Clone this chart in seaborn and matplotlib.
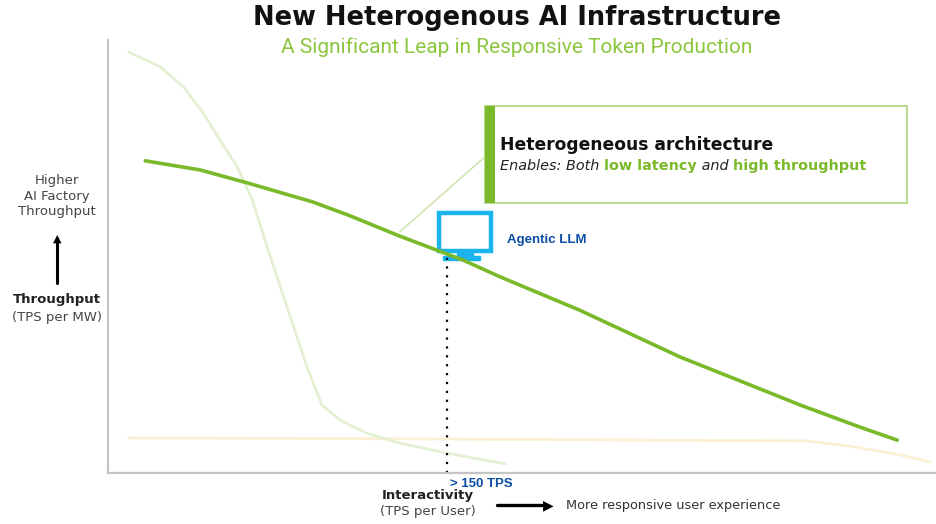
import matplotlib
matplotlib.use("Agg")
from matplotlib import pyplot as plt
from matplotlib.patches import Rectangle
import numpy as np
import pandas as pd
import seaborn as sns

# curves (x = interactivity, y = throughput, both 0-100)
hetero_x = [4.5, 11.1, 16.8, 24.7, 29.2, 35.2, 42.8, 47.3, 56.9, 69.0, 76.2, 83.5, 90.7, 95.2]
hetero_y = [72.1, 70.0, 67.0, 62.6, 59.4, 54.7, 49.2, 45.3, 37.6, 26.8, 21.3, 15.7, 10.6, 7.6]

gpu_x = [2.5, 6.3, 9.1, 11.5, 13.5, 15.6, 17.4, 19.2, 21.6, 24.0, 25.8, 28.0, 31.2, 35.2, 40.9, 47.9]
gpu_y = [97.2, 93.8, 89.2, 83.1, 76.9, 70.7, 63.1, 52.2, 38.3, 24.5, 15.7, 12.2, 9.2, 6.9, 4.6, 2.1]

low_x = [2.5, 35.2, 84.3, 89.5, 95.5, 99.2]
low_y = [8.1, 7.9, 7.4, 6.2, 4.2, 2.5]

agentic_x = 40.9
agentic_y = 49.7

df = pd.concat([
    pd.DataFrame({"x": hetero_x, "y": hetero_y, "series": "hetero"}),
    pd.DataFrame({"x": gpu_x, "y": gpu_y, "series": "gpu"}),
    pd.DataFrame({"x": low_x, "y": low_y, "series": "low"}),
])

W, H = 937, 524
sns.set_style("white")
plt.rcParams['font.family'] = ['DejaVu Sans']
fig = plt.figure(figsize=(W / 100, H / 100), dpi=100)
ax = fig.add_axes([108 / W, 1 - 473 / H, (937 - 108) / W, (473 - 40) / H])

palette = {"hetero": "#7AB929", "gpu": "#E3F0D3", "low": "#FBF0D2"}
widths = {"hetero": 2.6, "gpu": 2.0, "low": 2.0}
for name in ["low", "gpu", "hetero"]:
    d = df[df.series == name]
    sns.lineplot(data=d, x="x", y="y", ax=ax, color=palette[name],
                 linewidth=widths[name], sort=False, estimator=None,
                 solid_joinstyle="round", solid_capstyle="round")

ax.set_xlim(0, 100)
ax.set_ylim(0, 100)
ax.set_xticks([])
ax.set_yticks([])
ax.set_xlabel("")
ax.set_ylabel("")
for s in ["top", "right"]:
    ax.spines[s].set_visible(False)
for s in ["left", "bottom"]:
    ax.spines[s].set_color("#C4C4C4")
    ax.spines[s].set_linewidth(1.6)

# dotted drop line under the agentic point
ax.plot([agentic_x, agentic_x], [0, agentic_y], color="black", linestyle=(0, (1, 3)),
        linewidth=1.6)

# monitor icon
blue = "#1AB3EC"
ax.add_patch(Rectangle((39.9, 51.2), 6.3, 8.9, fill=False, edgecolor=blue, linewidth=3.2))
ax.add_patch(Rectangle((42.1, 49.8), 1.9, 1.6, color=blue))
ax.add_patch(Rectangle((40.4, 49.2), 4.5, 1.0, color=blue))

# callout box
box_green = "#B9DB8C"
ax.add_patch(Rectangle((45.5, 62.4), 50.9, 22.4, fill=False, edgecolor=box_green, linewidth=1.4))
ax.add_patch(Rectangle((45.5, 62.4), 1.2, 22.4, color="#7AB929", linewidth=0))
ax.plot([35.2, 45.4], [55.7, 72.9], color="#C7E2A3", linewidth=1.0)


def ft(px, py, s, **kw):
    return fig.text(px / W, 1 - py / H, s, **kw)


ft(517, 18, "New Heterogenous AI Infrastructure", ha="center", va="center",
   fontsize=18.5, fontweight="bold", color="#111111")
ft(517, 47, "A Significant Leap in Responsive Token Production", ha="center", va="center",
   fontsize=15, color="#8CC63F", family="Roboto")

ft(57, 196, "Higher\nAI Factory\nThroughput", ha="center", va="center", fontsize=9.5,
   color="#444444", linespacing=1.25)
ft(57, 300, "Throughput", ha="center", va="center", fontsize=9.5, fontweight="bold", color="#222222")
ft(57, 318, "(TPS per MW)", ha="center", va="center", fontsize=9.5, color="#444444")
fig.add_artist(plt.Line2D([57 / W, 57 / W], [1 - 283 / H, 1 - 242 / H], color="black", linewidth=2.2))
ft(57, 239, "\u25B2", ha="center", va="center", fontsize=8, color="black")

ft(428, 496, "Interactivity", ha="center", va="center", fontsize=9.5, fontweight="bold", color="#222222")
ft(428, 512, "(TPS per User)", ha="center", va="center", fontsize=9.5, color="#444444")
fig.add_artist(plt.Line2D([497 / W, 542 / W], [1 - 505 / H, 1 - 505 / H], color="black", linewidth=2.4))
ft(548, 505, "\u25B6", ha="center", va="center", fontsize=10, color="black")
ft(566, 505, "More responsive user experience", ha="left", va="center", fontsize=9.3, color="#333333")

ft(507, 240, "Agentic LLM", ha="left", va="center", fontsize=9.5, fontweight="bold",
   color="#0B4EA2", family="Liberation Sans")
ft(450, 484, "> 150 TPS", ha="left", va="center", fontsize=9.5, fontweight="bold",
   color="#0B4EA2", family="Liberation Sans")

ft(500, 145, "Heterogeneous architecture", ha="left", va="center", fontsize=12.3,
   fontweight="bold", color="#111111")

# mixed style second line, pieces placed one after another
pieces = [("Enables: Both ", "#222222", "normal", "italic"),
          ("low latency", "#7AB929", "bold", "normal"),
          (" and ", "#222222", "normal", "italic"),
          ("high throughput", "#7AB929", "bold", "normal")]
renderer = fig.canvas.get_renderer()
x0 = 500
for s, c, w, st in pieces:
    t = ft(x0, 166, s, ha="left", va="center", fontsize=10.4, color=c, fontweight=w, fontstyle=st)
    bb = t.get_window_extent(renderer=renderer)
    x0 += bb.width

fig.savefig("out.png", dpi=100)
